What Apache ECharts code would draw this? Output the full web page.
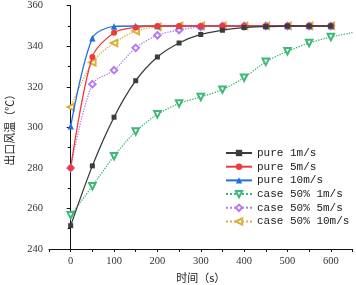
<!DOCTYPE html>
<html>
<head>
<meta charset="utf-8">
<script src="https://cdn.jsdelivr.net/npm/echarts@6/dist/echarts.min.js"></script>
<style>html,body{margin:0;padding:0;background:#fff;}#c{width:356px;height:285px;}</style>
</head>
<body>
<div id="c"></div>
<script>
var times = [0, 50, 100, 150, 200, 250, 300, 350, 400, 450, 500, 550, 600];
var pure1 = [251.5, 281, 305, 323, 334.7, 341.6, 345.8, 347.9, 349.2, 349.7, 350, 350, 350];
var pure5 = [280, 334.7, 346.7, 349.3, 350, 350, 350, 350, 350, 350, 350, 350, 350];
var pure10 = [300.5, 344, 349.8, 350, 350, 350, 350, 350, 350, 350, 350, 350, 350];
var case1 = [256.7, 271, 285.8, 298, 306.4, 311.8, 315, 318.6, 324.5, 332.3, 337.5, 341.6, 344.6];
var case1End = [650, 346.7];
var case5 = [280, 321.3, 328.2, 339.2, 345.4, 348, 349.5, 350, 350, 350, 350, 350, 350];
var case10 = [310, 332, 341.6, 347.5, 349.5, 350, 350, 350, 350, 350, 350, 350, 350];
var names = ['pure 1m/s', 'pure 5m/s', 'pure 10m/s', 'case 50% 1m/s', 'case 50% 5m/s', 'case 50% 10m/s'];
var xTicks = [-50, 0, 50, 100, 150, 200, 250, 300, 350, 400, 450, 500, 550, 600, 650];
var xLabels = [0, 100, 200, 300, 400, 500, 600];

function pairs(arr) { return times.map(function (t, i) { return [t, arr[i]]; }); }

var serifFont = 'Liberation Serif';
var cfg = [
  { d: pairs(pure1), c: '#3c3c3c', s: 'rect', r: 0, dash: 'solid', sz: 5 },
  { d: pairs(pure5), c: '#f03a3a', s: 'circle', r: 0, dash: 'solid', sz: 6 },
  { d: pairs(pure10), c: '#1f6fe0', s: 'triangle', r: 0, dash: 'solid', sz: 6.5 },
  { d: pairs(case1).concat([{ value: case1End, symbol: 'none' }]), c: '#3cb878', s: 'emptyTriangle', r: 180, dash: 'dotted', sz: 6.5 },
  { d: pairs(case5), c: '#b57bee', s: 'emptyDiamond', r: 0, dash: 'dotted', sz: 6.5 },
  { d: pairs(case10), c: '#dcae3c', s: 'emptyTriangle', r: 90, dash: 'dotted', sz: 6.5 }
];
var series = cfg.map(function (o, i) {
  return {
    name: names[i], type: 'line', data: o.d, smooth: 0.3,
    symbol: o.s, symbolRotate: o.r, symbolSize: o.sz, showAllSymbol: true,
    lineStyle: { color: o.c, width: 1.3, type: o.dash },
    itemStyle: { color: o.c, borderWidth: 1 },
    z: 10 - i
  };
});

var chart = echarts.init(document.getElementById('c'), null, { renderer: 'canvas' });
chart.setOption({
  animation: false,
  backgroundColor: '#fff',
  grid: { left: 49, right: 3.5, top: 5.7, bottom: 36, containLabel: false, outerBoundsMode: 'none' },
  legend: {
    orient: 'vertical', left: 220, top: 142,
    itemWidth: 26, itemHeight: 8, itemGap: 1.7,
    data: names,
    textStyle: { fontFamily: 'Liberation Mono', fontSize: 11, color: '#222', lineHeight: 12 }
  },
  xAxis: {
    type: 'value', min: -50, max: 650,
    name: '时间（s）', nameLocation: 'middle', nameGap: 22,
    nameTextStyle: { fontFamily: 'Noto Sans CJK SC', fontSize: 11, color: '#222' },
    axisLine: { lineStyle: { color: '#111', width: 1 } },
    axisTick: { show: true, customValues: xTicks, length: 3, lineStyle: { color: '#111' } },
    axisLabel: { customValues: xLabels, fontFamily: serifFont, fontSize: 10.5, color: '#333', margin: 7 },
    splitLine: { show: false }
  },
  yAxis: {
    type: 'value', min: 240, max: 360, interval: 20,
    name: '出口风温（℃）', nameLocation: 'middle', nameGap: 34, nameRotate: 90,
    nameTextStyle: { fontFamily: 'Noto Sans CJK SC', fontSize: 11, color: '#222' },
    axisLine: { show: true, lineStyle: { color: '#111', width: 1 } },
    axisTick: { show: true, length: 4, lineStyle: { color: '#111' } },
    minorTick: { show: true, splitNumber: 2, length: 3, lineStyle: { color: '#111' } },
    axisLabel: { fontFamily: serifFont, fontSize: 10.5, color: '#333', margin: 6 },
    splitLine: { show: false }
  },
  series: series
});
</script>
</body>
</html>
